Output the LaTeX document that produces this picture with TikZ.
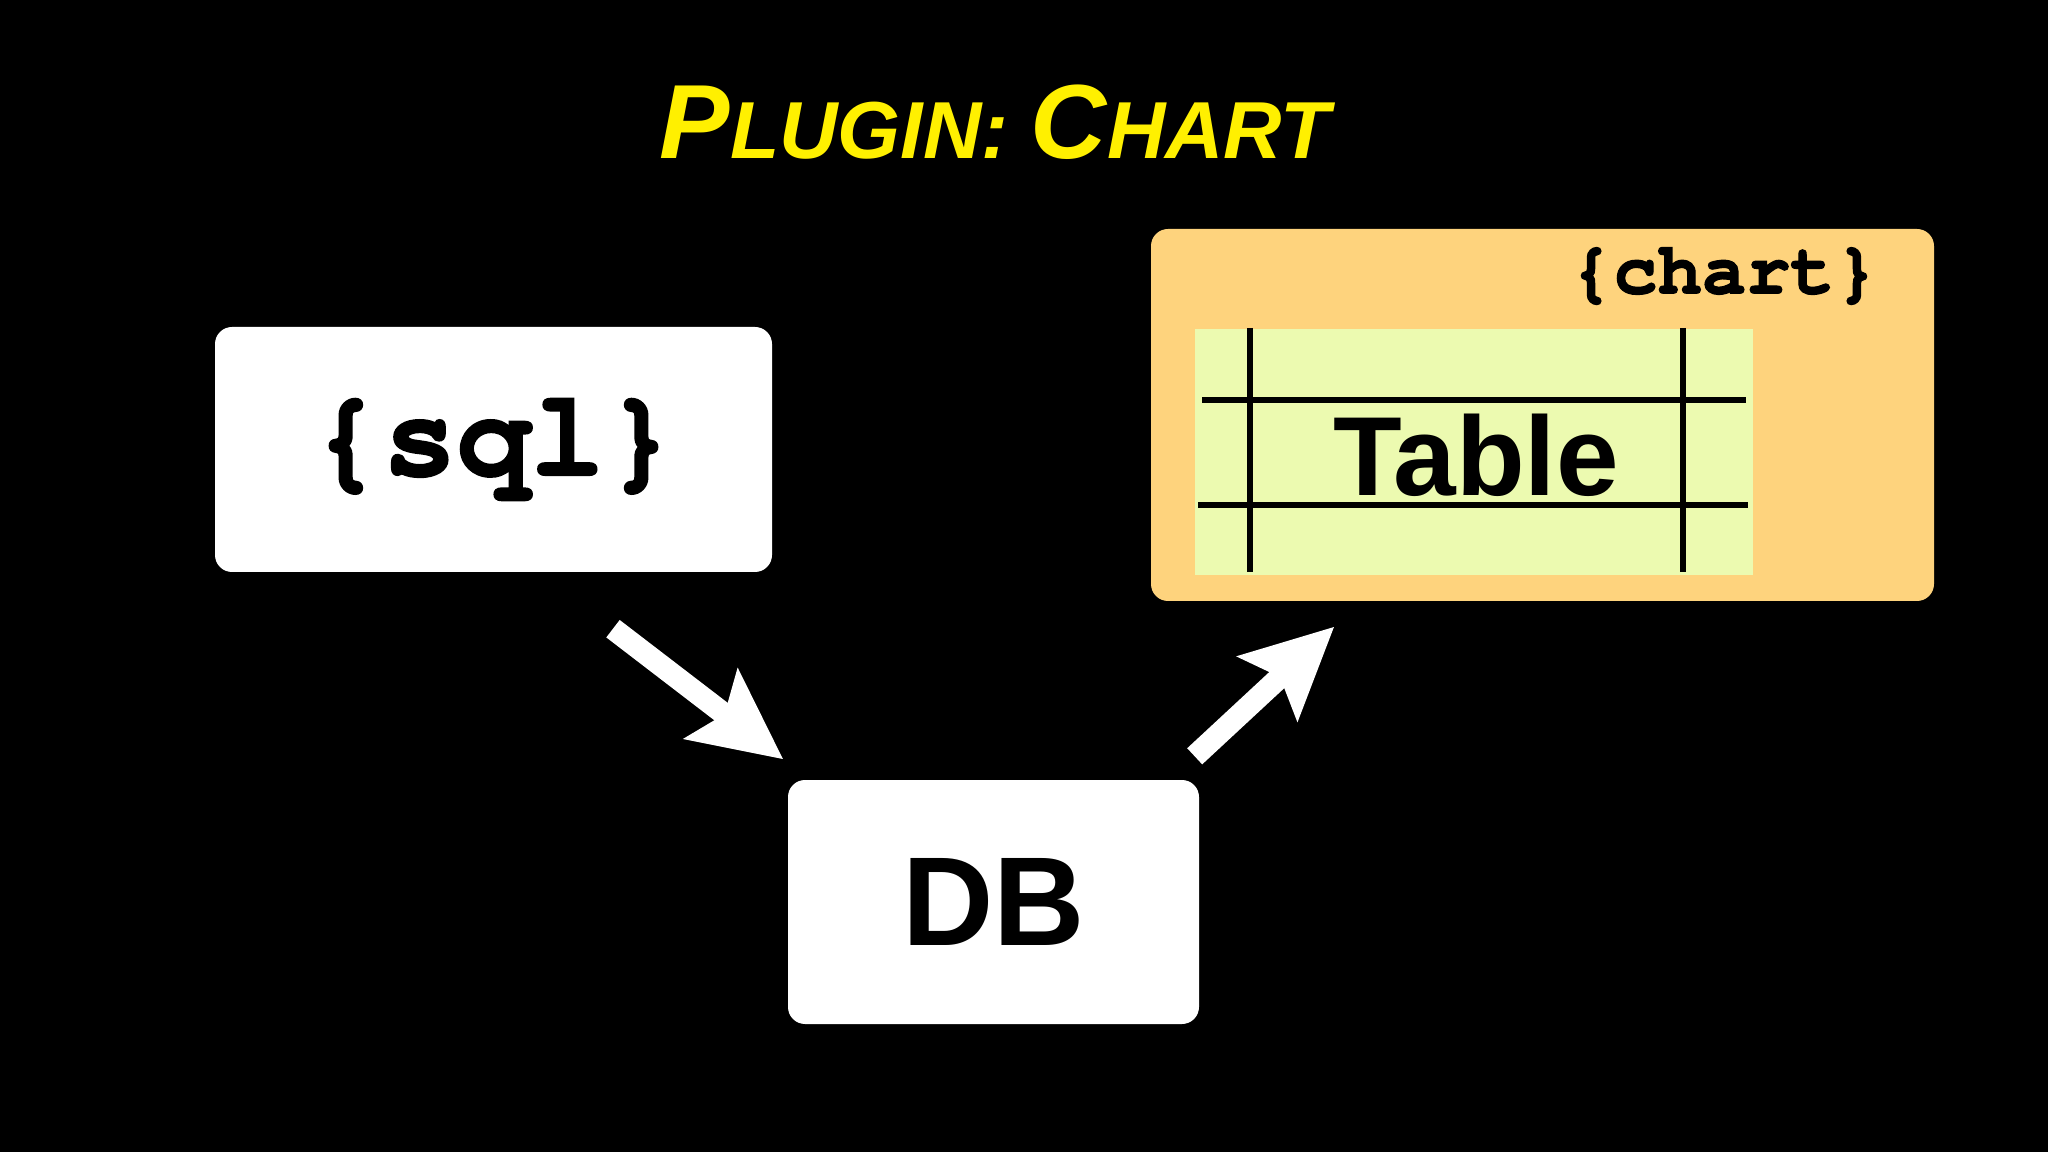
\documentclass[tikz,border=0pt]{standalone}
\usepackage{fontspec}
\setmainfont{Liberation Sans}
\newfontfamily\codefont{texgyrecursor}[Extension=.otf, UprightFont=*-regular, BoldFont=*-bold, BoldFeatures={FakeBold=1.5}]
\usetikzlibrary{arrows.meta}
\definecolor{titleyellow}{RGB}{255,240,0}
\definecolor{chartorange}{RGB}{254,211,125}
\definecolor{tablegreen}{RGB}{236,250,176}
\begin{document}
\begin{tikzpicture}[
    box/.style={draw=none, fill=white, rounded corners=0.17cm, inner sep=0pt},
    bigarrow/.style={white, line width=0.22cm,
      -{Stealth[length=0.9cm, width=0.86cm, inset=0.16cm]}},
    grid/.style={line width=0.065cm, black}
  ]
  \fill[black] (0,0) rectangle (20.48,-11.52);
  \useasboundingbox (0,0) rectangle (20.48,-11.52);
  % title
  \node[titleyellow, font=\bfseries\itshape] (title) at (9.95,-1.22)
    {\fontsize{30}{30}\selectfont P\fontsize{23}{23}\selectfont LUGIN: \fontsize{30}{30}\selectfont C\fontsize{23}{23}\selectfont HART};
  % boxes
  \node[box, minimum width=5.57cm, minimum height=2.45cm,
        font=\codefont\bfseries\fontsize{35}{35}\selectfont] (sql) at (4.935,-4.495) {\{sql\}};
  \node[box, minimum width=4.11cm, minimum height=2.44cm,
        font=\bfseries\fontsize{36}{36}\selectfont] (db) at (9.935,-9.02) {DB};
  \node[box, fill=chartorange, minimum width=7.83cm, minimum height=3.72cm] (chart) at (15.425,-4.15) {};
  \node[font=\codefont\bfseries\fontsize{21}{21}\selectfont] (chartlabel) at (17.24,-2.76) {\{chart\}};
  % the table
  \fill[tablegreen] (11.95,-3.29) rectangle (17.53,-5.75);
  \draw[grid] (12.02,-4.00) -- (17.46,-4.00);
  \draw[grid] (11.98,-5.05) -- (17.48,-5.05);
  \foreach \x in {12.50,16.83}
    \draw[grid] (\x,-3.28) -- (\x,-5.72);
  \node[font=\bfseries\fontsize{32}{32}\selectfont] (table) at (14.76,-4.55) {Table};
  % arrows
  \coordinate (a1) at ([shift={(1.195,-0.56)}]sql.south);
  \coordinate (a2) at ([shift={(-0.04,0.20)}]db.north west);
  \coordinate (b1) at ([shift={(-0.05,0.23)}]db.north east);
  \coordinate (b2) at ([shift={(1.84,-0.25)}]chart.south west);
  \draw[bigarrow] (a1) -- (a2);
  \draw[bigarrow] (b1) -- (b2);
\end{tikzpicture}
\end{document}
